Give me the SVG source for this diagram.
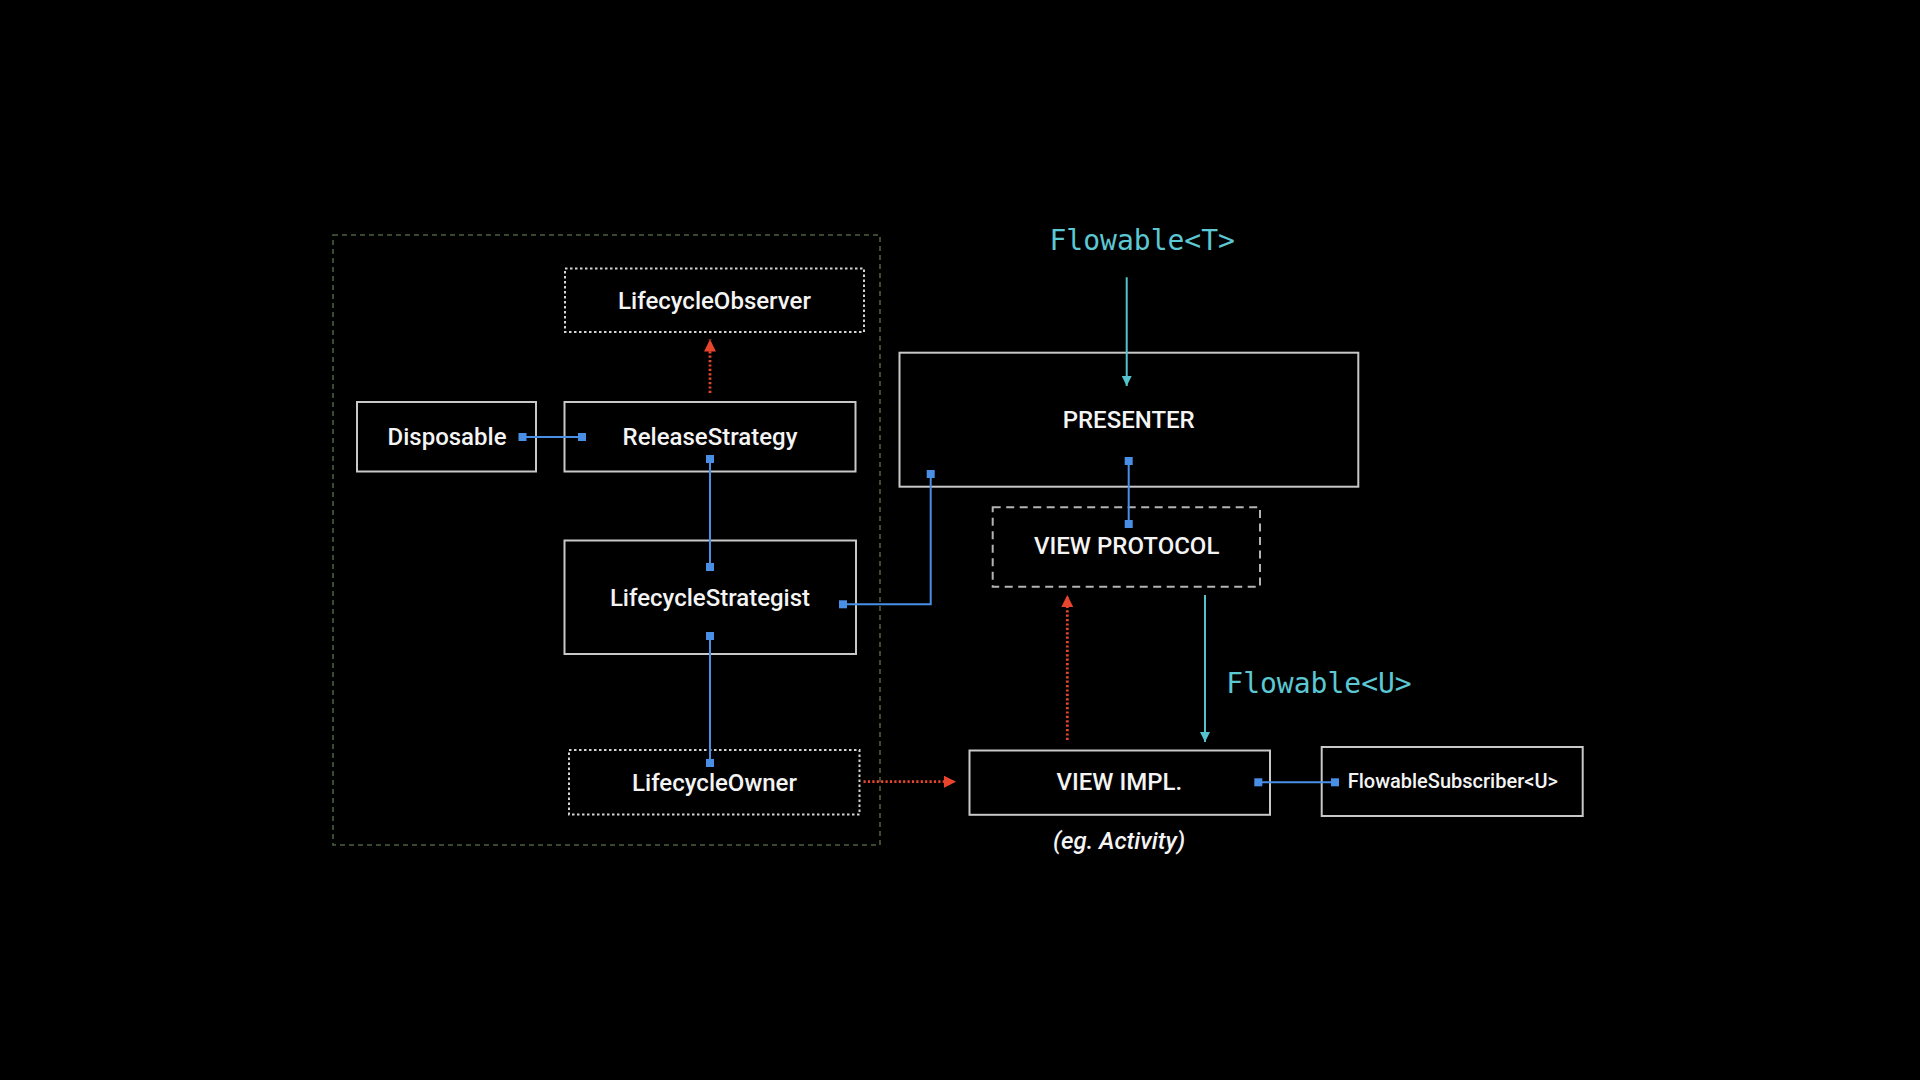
<svg xmlns="http://www.w3.org/2000/svg" width="1920" height="1080" viewBox="0 0 1920 1080">
<defs>
<style>
.box{fill:none;stroke:#c8c8c8;stroke-width:2}
.dotbox{fill:none;stroke:#d4d4d4;stroke-width:2;stroke-dasharray:2.5 2.5}
.dashbox{fill:none;stroke:#b4b4b4;stroke-width:2;stroke-dasharray:8 5.5}
.group{fill:none;stroke:#4c5f3e;stroke-width:1.6;stroke-dasharray:5 4}
.lbl{fill:#f4f4f4;font-family:Roboto,"Liberation Sans",sans-serif;font-weight:500;font-size:24px;text-anchor:middle}
.small{font-size:20px;text-anchor:start}
.note{fill:#f4f4f4;font-family:Roboto,"Liberation Sans",sans-serif;font-weight:500;font-style:italic;font-size:24px;text-anchor:middle}
.mono{fill:#5cc8d3;font-family:"DejaVu Sans Mono","Liberation Mono",monospace;font-size:28px}
.blue{fill:none;stroke:#4a8fe6;stroke-width:2}
.sq{fill:#4a8fe6}
.red{fill:none;stroke:#e8452f;stroke-width:2.8;stroke-dasharray:2.2 2.2}
.cyan{fill:none;stroke:#55c3ce;stroke-width:2}
</style>
<marker id="redHead" markerUnits="userSpaceOnUse" markerWidth="12" markerHeight="12" viewBox="0 0 11 11" refX="11" refY="5.5" orient="auto">
<path d="M0,0 L11,5.5 L0,11 z" fill="#e8452f"/>
</marker>
<marker id="cyanHead" markerUnits="userSpaceOnUse" markerWidth="10" markerHeight="10" viewBox="0 0 9 9" refX="9" refY="4.5" orient="auto">
<path d="M0,0 L9,4.5 L0,9 z" fill="#55c3ce"/>
</marker>
</defs>
<rect x="0" y="0" width="1920" height="1080" fill="#000"/>

<g id="container">
<rect class="group" x="333" y="235" width="547" height="610"/>
</g>

<g id="LifecycleObserver">
<rect class="dotbox" x="565" y="268.5" width="299" height="63.5"/>
<text class="lbl" x="714.5" y="308.5">LifecycleObserver</text>
</g>
<g id="Disposable">
<rect class="box" x="357" y="402" width="179" height="69.5"/>
<text class="lbl" x="447" y="445">Disposable</text>
</g>
<g id="ReleaseStrategy">
<rect class="box" x="564.5" y="402" width="291" height="69.5"/>
<text class="lbl" x="710" y="445">ReleaseStrategy</text>
</g>
<g id="LifecycleStrategist">
<rect class="box" x="564.5" y="540.5" width="291.5" height="113.5"/>
<text class="lbl" x="710" y="606">LifecycleStrategist</text>
</g>
<g id="LifecycleOwner">
<rect class="dotbox" x="569" y="750" width="290.5" height="64.5"/>
<text class="lbl" x="714.5" y="790.5">LifecycleOwner</text>
</g>
<g id="Presenter">
<rect class="box" x="899.5" y="352.7" width="458.8" height="134"/>
<text class="lbl" x="1128.7" y="427.7">PRESENTER</text>
</g>
<g id="ViewProtocol">
<rect class="dashbox" x="992.7" y="507.3" width="267.3" height="79.4"/>
<text class="lbl" x="1126.7" y="554">VIEW PROTOCOL</text>
</g>
<g id="ViewImpl">
<rect class="box" x="969.5" y="750.5" width="300.5" height="64.3"/>
<text class="lbl" x="1119.3" y="790">VIEW IMPL.</text>
<text class="note" x="1119" y="849">(eg. Activity)</text>
</g>
<g id="FlowableSubscriber">
<rect class="box" x="1321.7" y="747" width="261" height="69"/>
<text class="lbl small" x="1347.7" y="788.3">FlowableSubscriber&lt;U&gt;</text>
</g>
<g id="FlowableT">
<text class="mono" x="1049.5" y="250">Flowable&lt;T&gt;</text>
</g>
<g id="FlowableU">
<text class="mono" x="1226.3" y="693">Flowable&lt;U&gt;</text>
</g>

<g id="connectors">
<path class="blue" d="M522.5,437 H582"/>
<rect class="sq" x="518.5" y="433" width="8" height="8"/>
<rect class="sq" x="578" y="433" width="8" height="8"/>

<path class="blue" d="M710,459 V567"/>
<rect class="sq" x="706" y="455" width="8" height="8"/>
<rect class="sq" x="706" y="563" width="8" height="8"/>

<path class="blue" d="M843,604.3 H930.7 V474"/>
<rect class="sq" x="839" y="600.3" width="8" height="8"/>
<rect class="sq" x="926.7" y="470" width="8" height="8"/>

<path class="blue" d="M710,636 V763"/>
<rect class="sq" x="706" y="632" width="8" height="8"/>
<rect class="sq" x="706" y="759" width="8" height="8"/>

<path class="blue" d="M1128.7,461 V524"/>
<rect class="sq" x="1124.7" y="457" width="8" height="8"/>
<rect class="sq" x="1124.7" y="520" width="8" height="8"/>

<path class="blue" d="M1258.3,782.3 H1335"/>
<rect class="sq" x="1254.3" y="778.3" width="8" height="8"/>
<rect class="sq" x="1331" y="778.3" width="8" height="8"/>

<path class="red" d="M710,393 V339.5" marker-end="url(#redHead)"/>
<path class="red" d="M863.5,781.7 H956" marker-end="url(#redHead)"/>
<path class="red" d="M1067.3,740 V595" marker-end="url(#redHead)"/>

<path class="cyan" d="M1126.7,277.3 V386" marker-end="url(#cyanHead)"/>
<path class="cyan" d="M1205,595 V742" marker-end="url(#cyanHead)"/>
</g>
</svg>
